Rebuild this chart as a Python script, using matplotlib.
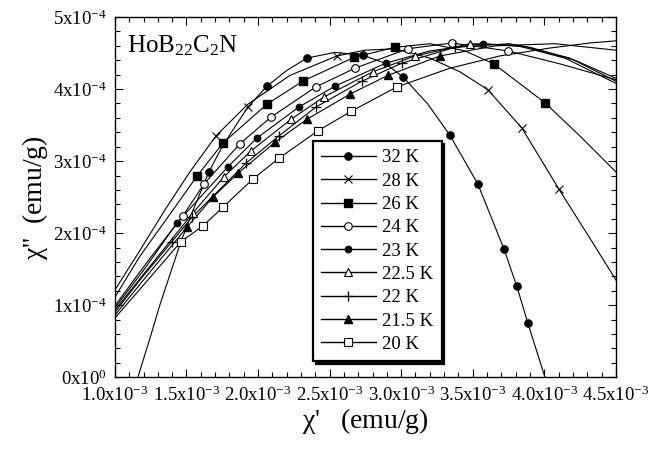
import matplotlib
matplotlib.use("Agg")
import matplotlib.pyplot as plt
from matplotlib.lines import Line2D
from matplotlib.ticker import MultipleLocator

plt.rcParams['font.family'] = ['Liberation Serif', 'DejaVu Serif']
plt.rcParams['mathtext.fontset'] = 'custom'
plt.rcParams['mathtext.rm'] = 'Liberation Serif'
plt.rcParams['mathtext.it'] = 'Liberation Serif:italic'
plt.rcParams['mathtext.default'] = 'rm'

# chi' in units of 1e-3 emu/g, chi'' in units of 1e-4 emu/g
# measured points
x32 = [1.657, 2.062, 2.341, 2.733, 3.012, 3.340, 3.536, 3.718, 3.808, 3.885]
y32 = [2.85, 4.04, 4.43, 4.47, 4.17, 3.36, 2.68, 1.78, 1.26, 0.75]
x28 = [1.706, 1.929, 2.551, 3.606, 3.843, 4.102]
y28 = [3.35, 3.75, 4.46, 3.99, 3.46, 2.61]
x26 = [1.573, 1.755, 2.062, 2.313, 2.670, 2.956, 3.648, 4.004]
y26 = [2.79, 3.25, 3.79, 4.11, 4.44, 4.58, 4.35, 3.81]
x24 = [1.475, 1.622, 1.873, 2.090, 2.404, 2.677, 3.047, 3.354, 3.746]
y24 = [2.24, 2.68, 3.24, 3.61, 4.03, 4.29, 4.56, 4.64, 4.53]
x23 = [1.433, 1.789, 1.992, 2.285, 2.537, 2.893, 3.571]
y23 = [2.14, 2.92, 3.32, 3.75, 4.04, 4.36, 4.63]
x225 = [1.545, 1.761, 1.950, 2.230, 2.460, 2.802, 3.096, 3.480]
y225 = [2.28, 2.78, 3.14, 3.58, 3.89, 4.24, 4.46, 4.63]
x22 = [1.398, 1.538, 1.915, 2.146, 2.404, 2.726, 3.005, 3.375]
y22 = [1.88, 2.22, 2.97, 3.35, 3.75, 4.11, 4.36, 4.58]
x215 = [1.503, 1.685, 1.859, 2.118, 2.341, 2.642, 2.907, 3.271]
y215 = [2.08, 2.50, 2.83, 3.26, 3.58, 3.93, 4.19, 4.46]
x20 = [1.461, 1.615, 1.755, 1.964, 2.146, 2.418, 2.649, 2.970]
y20 = [1.88, 2.10, 2.36, 2.75, 3.04, 3.42, 3.69, 4.03]

# fitted arcs
fx32 = [1.161, 1.245, 1.314, 1.384, 1.461, 1.559, 1.657, 1.755, 1.929, 2.062, 2.202, 2.341,
        2.537, 2.733, 2.886, 3.012, 3.187, 3.340, 3.536, 3.718, 3.808, 3.885, 4.004]
fy32 = [0.0, 0.54, 1.00, 1.42, 1.88, 2.38, 2.85, 3.22, 3.75, 4.04, 4.26, 4.43,
        4.51, 4.47, 4.36, 4.17, 3.79, 3.36, 2.68, 1.78, 1.26, 0.75, 0.0]
fx28 = [1.000, 1.175, 1.349, 1.524, 1.706, 1.929, 2.223, 2.551, 2.747, 2.956, 3.201, 3.410,
        3.606, 3.843, 4.102, 4.318, 4.500]
fy28 = [1.21, 1.76, 2.32, 2.85, 3.35, 3.79, 4.19, 4.46, 4.54, 4.56, 4.43, 4.24,
        3.99, 3.46, 2.61, 1.93, 1.35]
fx26 = [1.000, 1.175, 1.384, 1.573, 1.755, 2.062, 2.313, 2.670, 2.956, 3.201, 3.445, 3.648,
        4.004, 4.248, 4.500]
fy26 = [1.11, 1.68, 2.26, 2.79, 3.25, 3.79, 4.11, 4.44, 4.58, 4.63, 4.53, 4.35,
        3.81, 3.35, 2.85]
fx24 = [1.000, 1.245, 1.475, 1.622, 1.873, 2.090, 2.404, 2.677, 3.047, 3.354, 3.746, 4.109, 4.500]
fy24 = [0.99, 1.65, 2.24, 2.68, 3.24, 3.61, 4.03, 4.29, 4.56, 4.64, 4.53, 4.35, 4.13]
fx23 = [1.000, 1.210, 1.433, 1.789, 1.992, 2.285, 2.537, 2.893, 3.201, 3.571, 3.899, 4.214, 4.500]
fy23 = [0.96, 1.51, 2.14, 2.92, 3.32, 3.75, 4.04, 4.36, 4.53, 4.63, 4.58, 4.40, 4.15]
fx225 = [1.000, 1.245, 1.545, 1.761, 1.950, 2.230, 2.460, 2.802, 3.096, 3.480, 3.829, 4.179, 4.500]
fy225 = [0.93, 1.54, 2.28, 2.78, 3.14, 3.58, 3.89, 4.24, 4.46, 4.63, 4.61, 4.43, 4.11]
fx22 = [1.000, 1.175, 1.398, 1.538, 1.915, 2.146, 2.404, 2.726, 3.005, 3.375, 3.760, 4.144, 4.500]
fy22 = [0.90, 1.35, 1.88, 2.22, 2.97, 3.35, 3.75, 4.11, 4.36, 4.58, 4.63, 4.43, 4.08]
fx215 = [1.000, 1.245, 1.503, 1.685, 1.859, 2.118, 2.341, 2.642, 2.907, 3.271, 3.655, 4.074, 4.500]
fy215 = [0.86, 1.46, 2.08, 2.50, 2.83, 3.26, 3.58, 3.93, 4.19, 4.46, 4.60, 4.63, 4.54]
fx20 = [1.000, 1.231, 1.461, 1.615, 1.755, 1.964, 2.146, 2.418, 2.649, 2.970, 3.340, 3.689,
        4.039, 4.318, 4.500]
fy20 = [0.82, 1.35, 1.88, 2.10, 2.36, 2.75, 3.04, 3.42, 3.69, 4.03, 4.29, 4.46,
        4.57, 4.64, 4.67]

labels = ['32 K', '28 K', '26 K', '24 K', '23 K', '22.5 K', '22 K', '21.5 K', '20 K']
xticks = [1.0, 1.5, 2.0, 2.5, 3.0, 3.5, 4.0, 4.5]
yticks = [0, 1, 2, 3, 4, 5]

series = [
    (x32, y32, fx32, fy32, dict(marker='o', ms=5.2, mfc='k')),
    (x28, y28, fx28, fy28, dict(marker='x', ms=6, mew=0.8)),
    (x26, y26, fx26, fy26, dict(marker='s', ms=6.2, mfc='k')),
    (x24, y24, fx24, fy24, dict(marker='o', ms=5.5, mfc='white', mew=0.8)),
    (x23, y23, fx23, fy23, dict(marker='o', ms=4.6, mfc='k')),
    (x225, y225, fx225, fy225, dict(marker='^', ms=5.2, mfc='white', mew=0.8)),
    (x22, y22, fx22, fy22, dict(marker='+', ms=6.5, mew=0.9)),
    (x215, y215, fx215, fy215, dict(marker='^', ms=5.2, mfc='k')),
    (x20, y20, fx20, fy20, dict(marker='s', ms=5.5, mfc='white', mew=0.8)),
]

fig = plt.figure(figsize=(6.49, 4.49), dpi=100)
ax = fig.add_axes([0.177, 0.160, 0.772, 0.802])

handles = []
for (mx, my, cx, cy, st), lab in zip(series, labels):
    ax.plot([v * 1e-3 for v in cx], [v * 1e-4 for v in cy], color='k', lw=0.8, zorder=2)
    ax.plot([v * 1e-3 for v in mx], [v * 1e-4 for v in my], ls='none', mec='k', color='k',
            zorder=3, **st)
    handles.append(Line2D([], [], color='k', lw=1.0, mec='k', **st))

ax.set_xlim(1.0e-3, 4.5e-3)
ax.set_ylim(0, 5e-4)
ax.set_xticks([v * 1e-3 for v in xticks])
ax.set_xticklabels(['%.1fx10$^{-3}$' % v for v in xticks])
ax.set_yticks([v * 1e-4 for v in yticks])
ax.set_yticklabels(['0x10$^{0}$'] + ['%dx10$^{-4}$' % v for v in yticks[1:]])
ax.xaxis.set_minor_locator(MultipleLocator(0.1e-3))
ax.yaxis.set_minor_locator(MultipleLocator(0.2e-4))
ax.tick_params(which='both', direction='in', top=True, right=True, labelsize=13.5, width=0.8)
ax.tick_params(which='major', length=6, pad=6)
ax.tick_params(which='minor', length=3.5)
for s in ax.spines.values():
    s.set_linewidth(1.0)

ax.set_xlabel("$\\chi$'   (emu/g)", fontsize=20, labelpad=1)
ax.set_ylabel("$\\chi$''  (emu/g)", fontsize=20, labelpad=2)

ax.text(0.025, 0.955, 'HoB$_{22}$C$_2$N', transform=ax.transAxes, fontsize=18,
        va='top', ha='left')

leg = ax.legend(handles, labels, loc='upper left', bbox_to_anchor=(0.395, 0.656),
                borderaxespad=0, fontsize=13.5, handlelength=2.9, handletextpad=0.35,
                labelspacing=0.33, borderpad=0.45, fancybox=False,
                shadow={'color': 'k', 'alpha': 1.0})
leg.get_frame().set_edgecolor('k')
leg.get_frame().set_linewidth(1.6)

fig.savefig('out.png', dpi=100)
